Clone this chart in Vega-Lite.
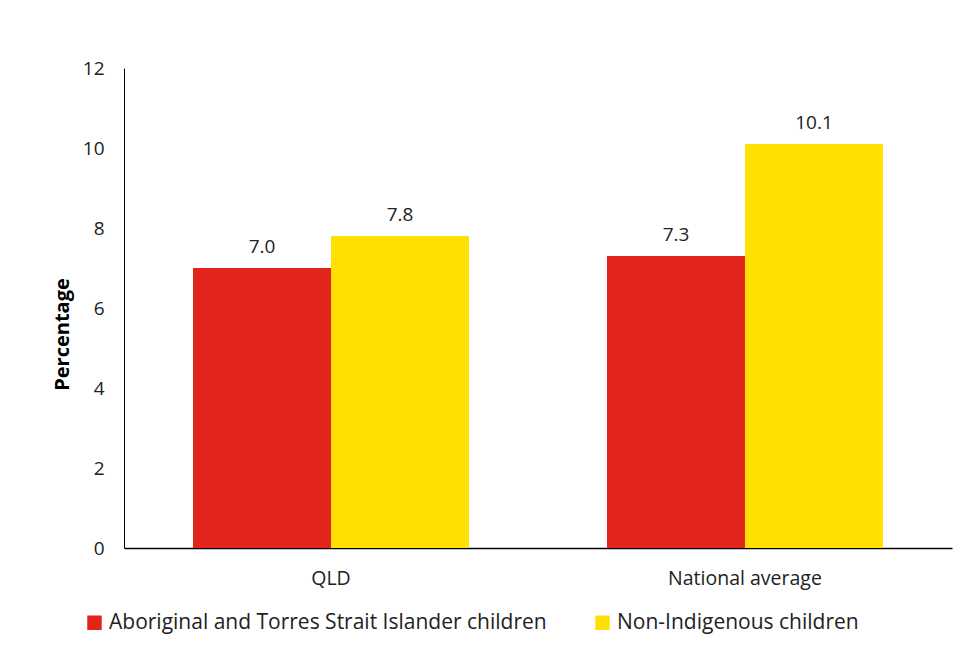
{
  "$schema": "https://vega.github.io/schema/vega-lite/v6.json",
  "width": 828,
  "height": 480,
  "autosize": "none",
  "padding": {"left": 124, "top": 68, "right": 25, "bottom": 102},
  "background": "white",
  "config": {"view": {"stroke": null}, "font": "Open Sans"},
  "data": {
    "values": [
      {"region": "QLD", "group": "Aboriginal and Torres Strait Islander children", "value": 7.0},
      {"region": "QLD", "group": "Non-Indigenous children", "value": 7.8},
      {"region": "National average", "group": "Aboriginal and Torres Strait Islander children", "value": 7.3},
      {"region": "National average", "group": "Non-Indigenous children", "value": 10.1}
    ]
  },
  "encoding": {
    "x": {
      "field": "region", "type": "nominal", "sort": ["QLD", "National average"],
      "scale": {"paddingInner": 0.3333, "paddingOuter": 0.1667},
      "axis": {"title": null, "labelAngle": 0, "labelFontSize": 19.5, "labelColor": "#222", "labelPadding": 21, "ticks": false, "domainColor": "#000", "domainWidth": 1.5}
    },
    "xOffset": {"field": "group", "type": "nominal", "sort": ["Aboriginal and Torres Strait Islander children", "Non-Indigenous children"]},
    "y": {
      "field": "value", "type": "quantitative",
      "scale": {"domain": [0, 12]},
      "axis": {"title": "Percentage", "titleFontSize": 20, "titleFontWeight": "bold", "titleColor": "#000", "titlePadding": 10, "titleY": 266, "values": [0, 2, 4, 6, 8, 10, 12], "labelFontSize": 19, "labelColor": "#222", "labelPadding": 20, "ticks": false, "grid": false, "domainColor": "#000", "domainWidth": 1}
    }
  },
  "layer": [
    {
      "mark": {"type": "bar"},
      "encoding": {
        "color": {
          "field": "group", "type": "nominal",
          "sort": ["Aboriginal and Torres Strait Islander children", "Non-Indigenous children"],
          "scale": {"range": ["#E3241B", "#FEE100"]},
          "legend": {"title": null, "orient": "none", "direction": "horizontal", "legendX": -40, "legendY": 544, "labelFontSize": 21, "labelColor": "#222", "symbolType": "square", "symbolSize": 210, "symbolStrokeWidth": 0, "columnPadding": 45, "labelLimit": 600}
        }
      }
    },
    {
      "mark": {"type": "text", "dy": -21, "fontSize": 19, "color": "#222"},
      "encoding": {"text": {"field": "value", "type": "quantitative", "format": ".1f"}}
    }
  ]
}
